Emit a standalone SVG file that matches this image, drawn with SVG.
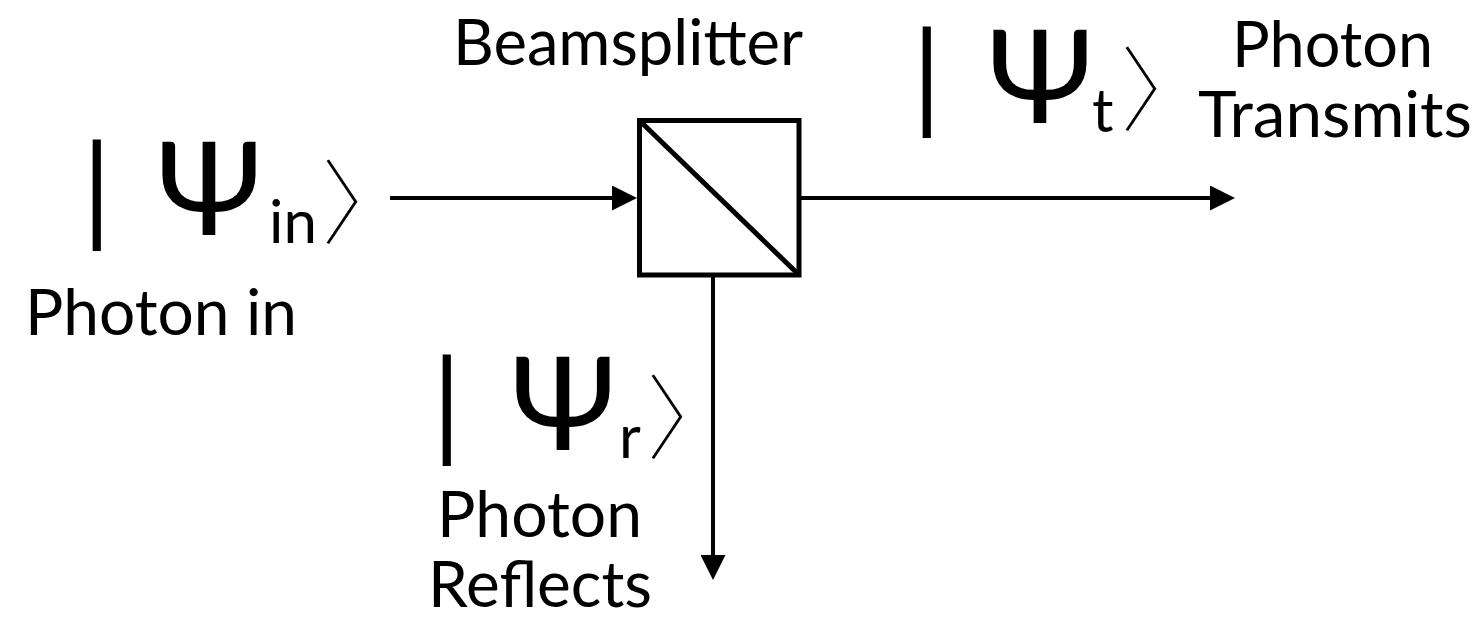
<svg xmlns="http://www.w3.org/2000/svg" width="1479" height="623" viewBox="0 0 1479 623">
<style>
.lbl{font-family:Lato,"DejaVu Sans",sans-serif;font-size:64px;fill:#000}
.ket{font-family:Lato,"DejaVu Sans",sans-serif;fill:#000}
.bar{font-size:118px}
.psi{font-size:130px}
.sub{font-size:60px}
.ang{font-family:"Noto Sans CJK JP","DejaVu Sans",sans-serif;font-size:92px;font-weight:100;fill:#000}
.line{stroke:#000;stroke-width:4;fill:none}
</style>
<defs>
<marker id="ah" markerWidth="25" markerHeight="25" refX="5" refY="12.5" orient="auto" markerUnits="userSpaceOnUse">
<path d="M0,0 L25,12.5 L0,25 Z" fill="#000"/>
</marker>
</defs>
<g id="beamsplitter">
<rect x="639.5" y="120.5" width="159.5" height="154.5" fill="#fff" stroke="#000" stroke-width="5"/>
<line x1="641" y1="122" x2="797" y2="273" stroke="#000" stroke-width="5"/>
<text class="lbl" x="453" y="65" textLength="350" lengthAdjust="spacingAndGlyphs">Beamsplitter</text>
</g>
<g id="connectors">
<line class="line" x1="390" y1="198" x2="617" y2="198" marker-end="url(#ah)"/>
<line class="line" x1="801" y1="198" x2="1215" y2="198" marker-end="url(#ah)"/>
<line class="line" x1="713" y1="277" x2="713" y2="560" marker-end="url(#ah)"/>
</g>
<g id="input">
<text class="ket bar" x="82" y="230">|</text>
<text class="ket psi" x="156" y="235">Ψ</text>
<text class="ket sub" x="269" y="243">in</text>
<text class="ang" x="322" y="237">〉</text>
<text class="lbl" x="25" y="335" textLength="272" lengthAdjust="spacingAndGlyphs">Photon in</text>
</g>
<g id="transmit">
<text class="ket bar" x="912" y="117">|</text>
<text class="ket psi" x="987" y="123">Ψ</text>
<text class="ket sub" x="1092" y="132">t</text>
<text class="ang" x="1121" y="124">〉</text>
<text class="lbl" x="1232" y="67" textLength="201" lengthAdjust="spacingAndGlyphs">Photon</text>
<text class="lbl" x="1198" y="137" textLength="274" lengthAdjust="spacingAndGlyphs">Transmits</text>
</g>
<g id="reflect">
<text class="ket bar" x="432" y="445">|</text>
<text class="ket psi" x="510" y="450">Ψ</text>
<text class="ket sub" x="619" y="458">r</text>
<text class="ang" x="647" y="452">〉</text>
<text class="lbl" x="437" y="537" textLength="205" lengthAdjust="spacingAndGlyphs">Photon</text>
<text class="lbl" x="428" y="607" textLength="224" lengthAdjust="spacingAndGlyphs">Reflects</text>
</g>
</svg>
